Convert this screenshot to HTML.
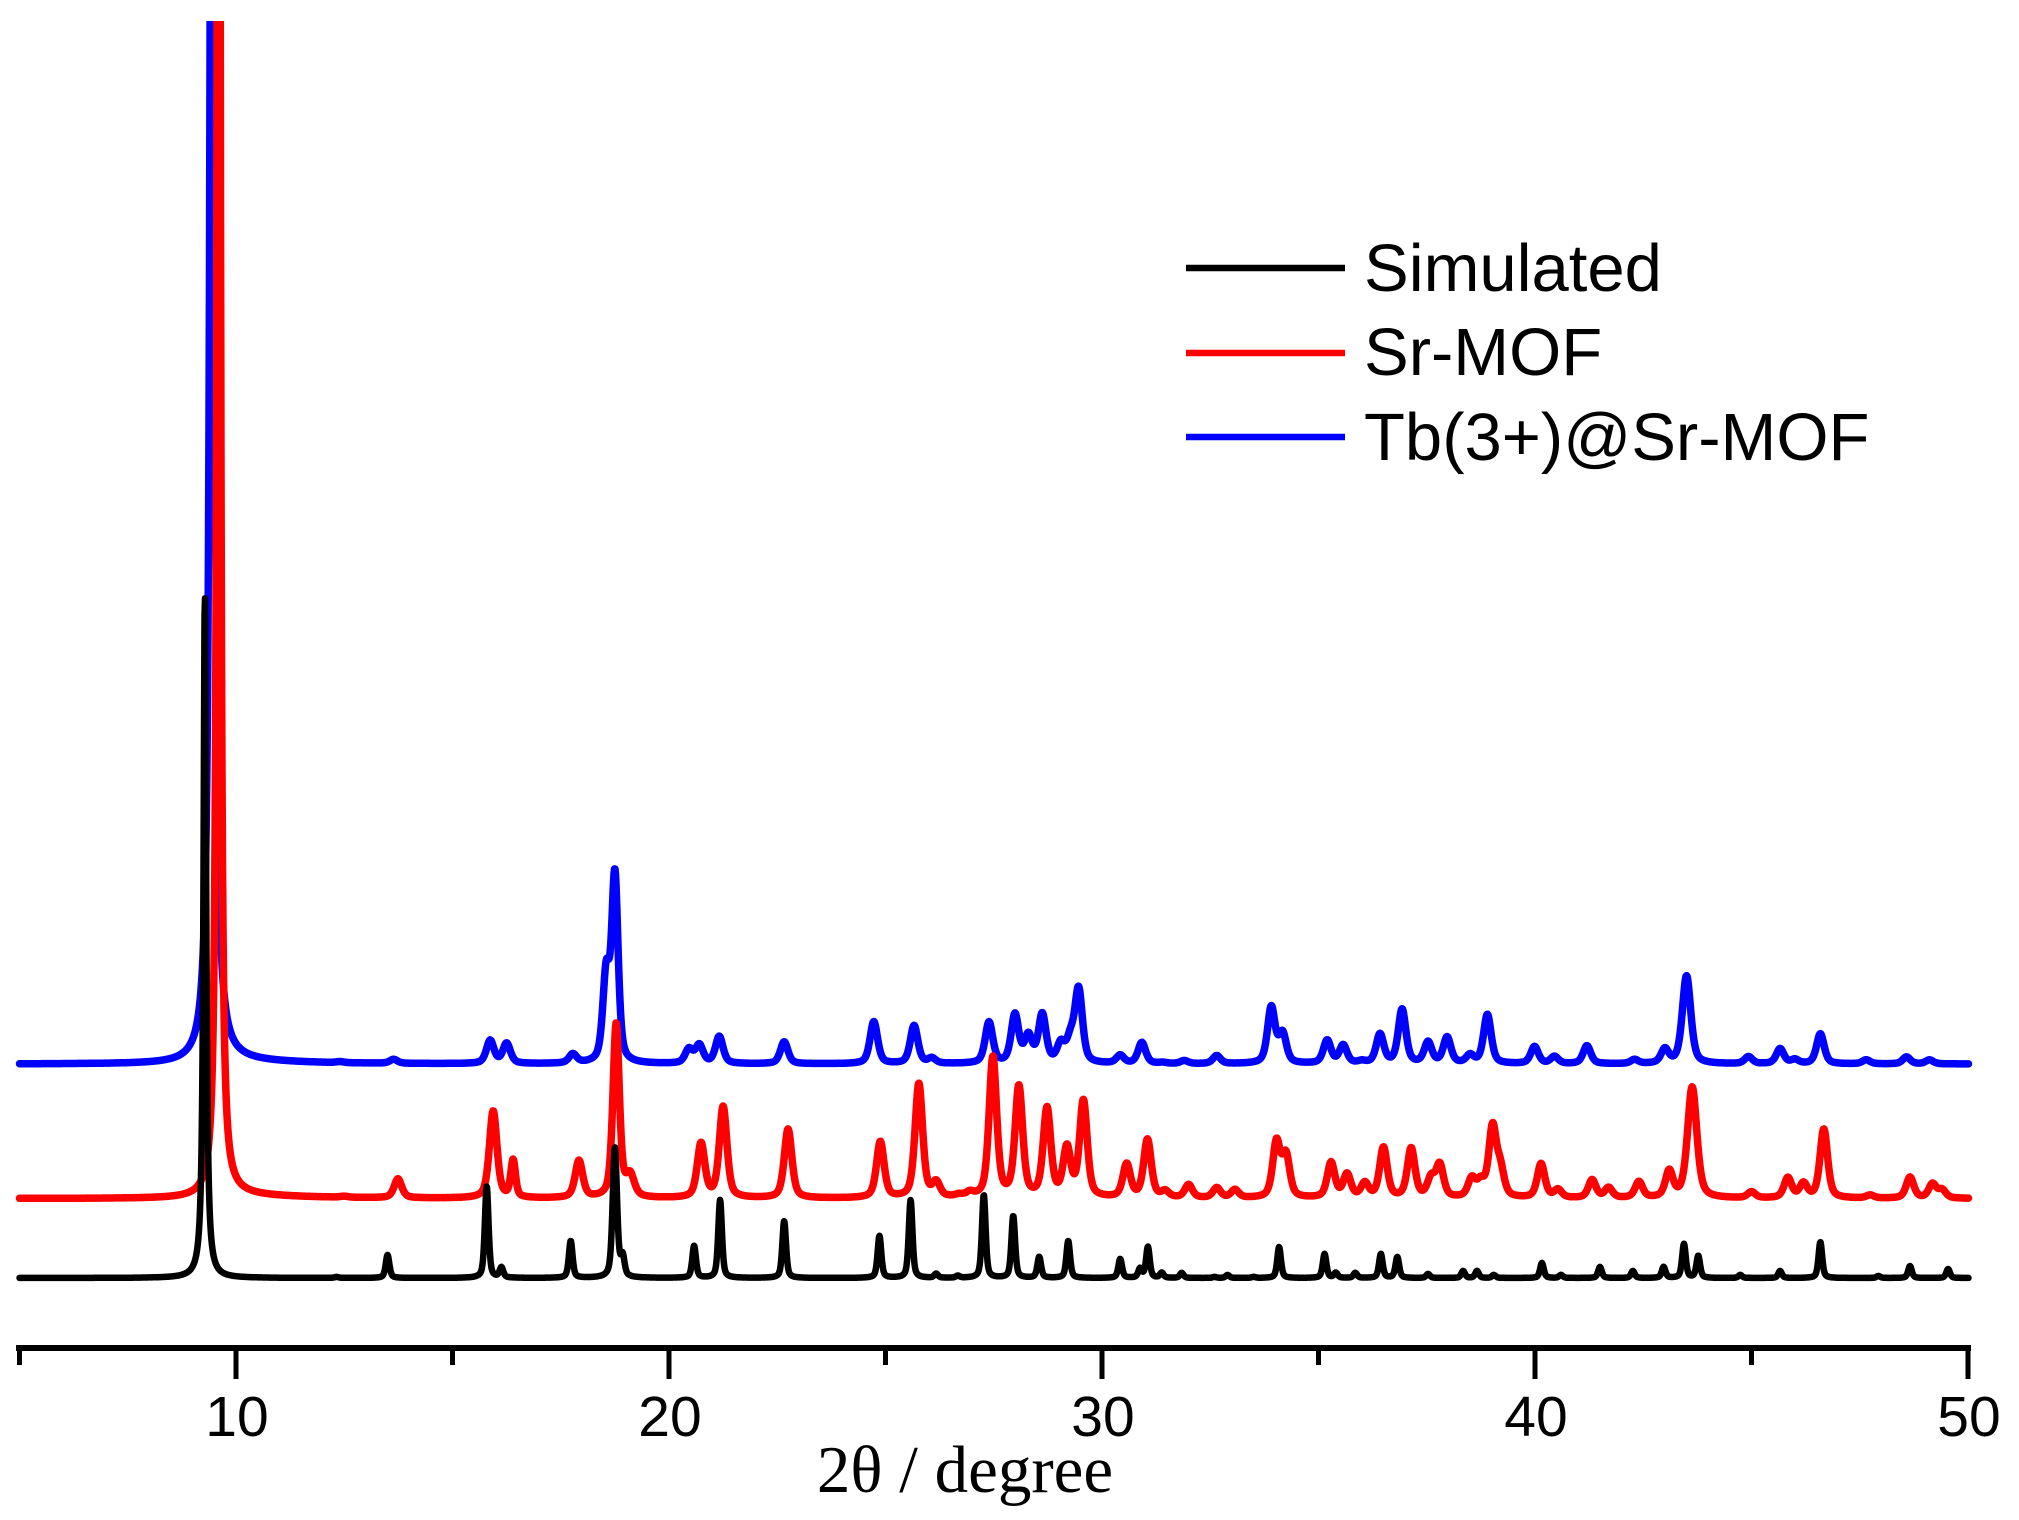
<!DOCTYPE html>
<html><head><meta charset="utf-8">
<style>
html,body{margin:0;padding:0;background:#fff;}
svg{display:block;}
</style></head>
<body>
<svg id="s" width="2019" height="1520" viewBox="0 0 2019 1520" xmlns="http://www.w3.org/2000/svg">
<defs><clipPath id="c"><rect x="0" y="21" width="2019" height="1400"/></clipPath></defs>
<rect x="0" y="0" width="2019" height="1520" fill="#fff"/>
<g clip-path="url(#c)" fill="none" stroke-linejoin="round" stroke-linecap="round">
<path id="pb" stroke="#0000ff" stroke-width="7.5" d=""/>
<path id="pr" stroke="#ff0000" stroke-width="7.5" d=""/>
<path id="pk" stroke="#000000" stroke-width="6.5" d=""/>
</g>
<!-- axis -->
<rect x="16" y="1345" width="1955" height="6" fill="#000"/>
<g stroke="#000" stroke-width="5">
<line x1="19.5" y1="1348" x2="19.5" y2="1365"/>
<line x1="236" y1="1348" x2="236" y2="1379"/>
<line x1="452.5" y1="1348" x2="452.5" y2="1365"/>
<line x1="669" y1="1348" x2="669" y2="1379"/>
<line x1="885.5" y1="1348" x2="885.5" y2="1365"/>
<line x1="1102" y1="1348" x2="1102" y2="1379"/>
<line x1="1318.5" y1="1348" x2="1318.5" y2="1365"/>
<line x1="1535" y1="1348" x2="1535" y2="1379"/>
<line x1="1751.5" y1="1348" x2="1751.5" y2="1365"/>
<line x1="1968" y1="1348" x2="1968" y2="1379"/>
</g>
<g font-family="'Liberation Sans', Arial, sans-serif" font-size="57" text-anchor="middle" fill="#000">
<text x="237" y="1436">10</text>
<text x="670" y="1436">20</text>
<text x="1103" y="1436">30</text>
<text x="1536" y="1436">40</text>
<text x="1969" y="1436">50</text>
</g>
<text x="965" y="1492" font-family="'Liberation Serif', 'Times New Roman', serif" font-size="67" text-anchor="middle" fill="#000">2θ / degree</text>
<!-- legend -->
<g stroke-width="6.5">
<line x1="1186" y1="268" x2="1345" y2="268" stroke="#000"/>
<line x1="1186" y1="353" x2="1345" y2="353" stroke="#ff0000"/>
<line x1="1186" y1="437" x2="1345" y2="437" stroke="#0000ff"/>
</g>
<g font-family="'Liberation Sans', Arial, sans-serif" font-size="67" fill="#000">
<text x="1364" y="291">Simulated</text>
<text x="1364" y="375">Sr-MOF</text>
<text x="1364" y="460">Tb(3+)@Sr-MOF</text>
</g>
</svg>
<script>
function X(v){return 19.5+(v-5)*43.3;}
function build(peaks, base, defG, eta, sub, tail){
  var pre=peaks.map(function(p){return [X(p[0]), Math.max(p[1]-sub,1), p[2]||defG, (p[3]!==undefined?p[3]:eta)];});
  var d='';
  for(var x=19.5;x<=1968.6;x+=0.5){
    var y=0;
    for(var i=0;i<pre.length;i++){
      var p=pre[i]; var dx=x-p[0]; var r=(dx/p[2])*(dx/p[2]);
      var g = r<60? Math.exp(-0.6931*r):0;
      y+=p[1]*(p[3]/(1+r)+(1-p[3])*g);
    }
    if(tail) y+=tail(x);
    var yy=base(x)-y;
    d+=(d?'L':'M')+x.toFixed(1)+' '+yy.toFixed(1);
  }
  return d;
}
var black=[[9.28,691,1.6,1],[12.32,4],[13.5,26],[15.79,95],[16.13,13],[17.73,40],[18.75,133,2.6],[18.93,22],[20.58,35],[21.18,81],[22.66,60],[24.86,45],[25.58,81],[26.17,7],[26.67,5],[27.27,86],[27.95,65],[28.55,24],[29.22,40],[30.42,22],[30.88,12],[31.06,34],[31.38,8],[31.84,8],[32.6,4],[32.9,6],[33.5,3],[34.09,34],[35.14,27],[35.4,8],[35.85,8],[36.44,27],[36.82,24],[37.53,7],[38.34,10],[38.66,10],[39.05,6],[40.16,18],[40.6,6],[41.5,14],[42.26,10],[42.97,14],[43.44,37],[43.77,25],[44.74,6],[45.66,10],[46.59,39],[47.93,5],[48.66,15],[49.54,12]];
var red=[[9.6,2500,1.5,1],[12.5,5],[13.74,23],[15.94,91],[16.4,41,2.8],[17.92,41],[18.78,178,3.8],[19.1,25,5],[20.74,58],[21.25,95],[22.75,73],[24.88,60],[25.77,118],[26.17,18],[26.7,6],[26.95,8],[27.48,144],[28.08,114],[28.73,92],[29.19,52],[29.57,100],[30.57,37],[31.05,62],[31.46,10],[32.0,17],[32.65,14],[33.07,12],[34.03,59],[34.25,45],[35.29,39],[35.66,27],[36.07,18],[36.5,54],[37.14,53],[37.6,22],[37.8,36],[38.54,22],[38.75,18],[39.02,73],[39.2,30],[40.14,38],[40.53,12],[41.32,22],[41.7,14],[42.4,20],[43.1,30],[43.63,115,5.5],[45.0,10],[45.84,24],[46.2,18],[46.67,73],[47.74,7],[48.66,25],[49.18,18],[49.4,12]];
var blue=[[9.45,2000,2.2,1],[12.4,3],[13.64,8],[15.87,27],[16.25,24],[17.78,13],[18.55,90,4],[18.75,190,3.8],[20.46,18],[20.7,22],[21.16,31],[22.66,26],[24.73,46],[25.66,42],[26.07,9],[27.39,45],[27.99,52],[28.3,30],[28.62,52],[29.05,22],[29.27,25],[29.46,77],[30.42,12],[30.92,25],[31.4,5],[31.9,7],[32.65,12],[33.91,60],[34.17,33],[35.2,27],[35.57,22],[36.0,6],[36.42,33],[36.93,58],[37.53,25],[37.97,30],[38.5,12],[38.9,53],[39.99,21],[40.45,11],[41.2,22],[42.3,8],[43.0,18],[43.5,92,5],[44.93,11],[45.66,19],[46.0,8],[46.59,34],[47.65,8],[48.58,11],[49.11,8]];
function tailF(x0,h,w){return function(x){var dx=x-x0; return dx>0? h*Math.exp(-dx/w):0;};}
document.getElementById('pk').setAttribute('d',build(black,function(){return 1278;},2.2,0.5,3));
document.getElementById('pr').setAttribute('d',build(red,function(x){return 1198.5;},4.5,0.5,4,tailF(X(9.6),5,70)));
document.getElementById('pb').setAttribute('d',build(blue,function(x){return 1064;},4.5,0.5,4,tailF(X(9.45),5,70)));
</script>
</body></html>
